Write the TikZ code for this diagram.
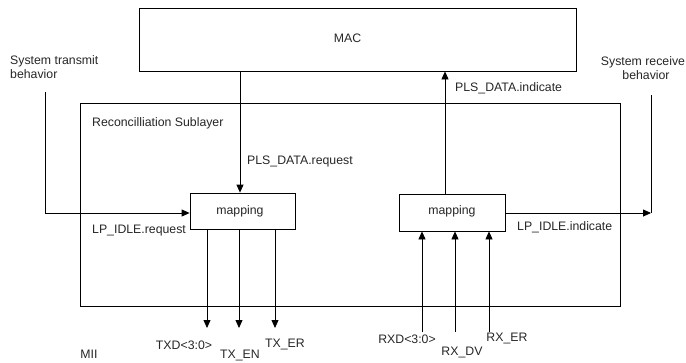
\documentclass[tikz,border=0pt]{standalone}
\usepackage{fontspec}
\setmainfont{Liberation Sans}
\usetikzlibrary{arrows.meta}
\begin{document}
\begin{tikzpicture}[x=1pt,y=-1pt,
  lbl/.style={font=\fontsize{12.3}{14.5}\selectfont, text=black!85, inner sep=0pt},
  blk/.style={draw, line width=0.8pt, inner sep=0pt},
  wire/.style={line width=0.8pt},
  arr/.style={wire, -{Triangle[length=8pt,width=7pt]}}]
\useasboundingbox (0,0) rectangle (686,362);

% blocks
\node[blk, minimum width=437pt, minimum height=63pt] (mac) at (357.5,39.5) {};
\node[lbl] (mactxt) at (347.5,38) {MAC};
\node[blk, minimum width=540pt, minimum height=203pt] (rs) at (350,204.5) {};
\node[lbl, anchor=west] (rstxt) at (92,123) {Reconcilliation Sublayer};
\node[blk, fill=white, minimum width=105pt, minimum height=36pt] (mapL) at (242.5,211) {};
\node[lbl] (mapLtxt) at (240,211) {mapping};
\node[blk, fill=white, minimum width=106pt, minimum height=37pt] (mapR) at (452,212.5) {};
\node[lbl] (mapRtxt) at (452,211) {mapping};

% helper points
\coordinate (txtop) at (45,92);
\coordinate (rxtop) at (651,95);
\coordinate (rxend) at (651,213);
\coordinate (reqx) at (240,0);
\coordinate (indx) at (445,0);
\coordinate (txd) at (207,328);
\coordinate (txen) at (239,328);
\coordinate (txer) at (275,328);
\coordinate (rxd) at (422,332);
\coordinate (rxdv) at (455,332);
\coordinate (rxer) at (489,332);

% service primitives
\draw[arr] (mac.south -| reqx) -- (mapL.north -| reqx);
\draw[arr] (mapR.north -| indx) -- (mac.south -| indx);
\draw[arr] (txtop) |- ([yshift=-2pt]mapL.west);
\draw[wire] (rxtop) -- (rxend);
\draw[arr] (mapR.east |- rxend) -- (rxend);

% MII signals
\draw[arr] (mapL.south -| txd) -- (txd);
\draw[arr] (mapL.south -| txen) -- (txen);
\draw[arr] (mapL.south -| txer) -- (txer);
\draw[arr] (rxd) -- (mapR.south -| rxd);
\draw[arr] (rxdv) -- (mapR.south -| rxdv);
\draw[arr] (rxer) -- (mapR.south -| rxer);

% labels
\node[lbl, anchor=west, align=left] (txbeh) at (10,67) {System transmit\\behavior};
\node[lbl, align=center] (rxbeh) at (643,68) {System receive\\\hspace*{6pt}behavior};
\node[lbl, anchor=west] (reqlbl) at (247,161) {PLS\_DATA.request};
\node[lbl, anchor=west] (indlbl) at (455,88) {PLS\_DATA.indicate};
\node[lbl, anchor=west] (lpreq) at (92,231) {LP\_IDLE.request};
\node[lbl, anchor=west] (lpind) at (517,227) {LP\_IDLE.indicate};
\node[lbl] (txdlbl) at (184,345) {TXD<3:0>};
\node[lbl] (txenlbl) at (240,355) {TX\_EN};
\node[lbl] (txerlbl) at (285,344) {TX\_ER};
\node[lbl] (miilbl) at (89,354) {MII};
\node[lbl] (rxdlbl) at (407,339) {RXD<3:0>};
\node[lbl] (rxdvlbl) at (462,352) {RX\_DV};
\node[lbl] (rxerlbl) at (507,338) {RX\_ER};
\end{tikzpicture}
\end{document}
